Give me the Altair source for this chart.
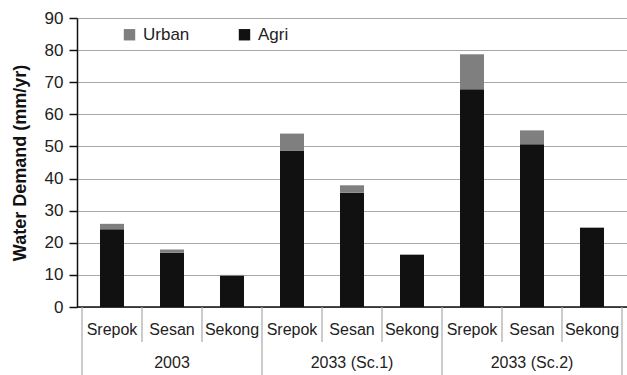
import altair as alt
import pandas as pd

groups = ["2003", "2033 (Sc.1)", "2033 (Sc.2)"]
basins = ["Srepok", "Sesan", "Sekong"]
agri = [24.2, 16.9, 9.7, 48.6, 35.6, 16.3, 67.8, 50.7, 24.7]
urban = [1.7, 1.0, 0.3, 5.4, 2.3, 0.1, 10.9, 4.3, 0.1]
y_ticks = [0, 10, 20, 30, 40, 50, 60, 70, 80, 90]

FONT = "Liberation Sans"
W, H = 550, 289

rows = []
for i in range(len(agri)):
    g = groups[i // 3]
    b = basins[i % 3]
    rows.append({"pos": i + 0.5, "basin": b, "group": g, "use": "Agri", "value": agri[i], "ord": 0})
    rows.append({"pos": i + 0.5, "basin": b, "group": g, "use": "Urban", "value": urban[i], "ord": 1})
bars_df = pd.DataFrame(rows)

basin_df = pd.DataFrame({"pos": [i + 0.5 for i in range(9)], "basin": [basins[i % 3] for i in range(9)]})
group_df = pd.DataFrame({"pos": [1.5, 4.5, 7.5], "group": groups})
sub_div_df = pd.DataFrame({"x": [1, 2, 4, 5, 7, 8]})
grp_div_df = pd.DataFrame({"x": [0, 3, 6, 9]})

xscale = alt.Scale(domain=[0, 9], nice=False, zero=False)

bars = alt.Chart(bars_df).mark_bar(size=24).encode(
    x=alt.X("pos:Q", scale=xscale, axis=None),
    y=alt.Y(
        "value:Q",
        stack="zero",
        scale=alt.Scale(domain=[0, 90], nice=False),
        axis=alt.Axis(
            title="Water Demand (mm/yr)",
            values=y_ticks,
            grid=True,
            gridColor="#a8a8a8",
            gridWidth=1.2,
            domainColor="#111111",
            domainWidth=1.5,
            tickColor="#111111",
            tickSize=8,
            tickWidth=1.5,
            labelFont=FONT,
            labelFontSize=17,
            labelColor="#222222",
            labelPadding=6,
            titleFont=FONT,
            titleFontSize=18,
            titleFontWeight="bold",
            titleColor="#111111",
            titlePadding=15,
        ),
    ),
    color=alt.Color(
        "use:N",
        scale=alt.Scale(domain=["Urban", "Agri"], range=["#7f7f7f", "#111111"]),
        legend=alt.Legend(
            title=None,
            orient="none",
            legendX=44,
            legendY=8,
            direction="horizontal",
            symbolType="square",
            symbolSize=130,
            symbolStrokeWidth=0,
            labelFont=FONT,
            labelFontSize=17,
            labelColor="#222222",
            columnPadding=46,
            labelOffset=5,
        ),
    ),
    order=alt.Order("ord:Q"),
)

baseline = alt.Chart(pd.DataFrame({"a": [0]})).mark_rule(color="#111111", strokeWidth=1.5).encode(
    x=alt.value(0), x2=alt.value(W), y=alt.value(H)
)

sub_div = alt.Chart(sub_div_df).mark_rule(color="#a8a8a8", strokeWidth=1.2).encode(
    x=alt.X("x:Q", scale=xscale, axis=None), y=alt.value(H), y2=alt.value(H + 35)
)
grp_div = alt.Chart(grp_div_df).mark_rule(color="#a8a8a8", strokeWidth=1.2).encode(
    x=alt.X("x:Q", scale=xscale, axis=None), y=alt.value(H), y2=alt.value(H + 70)
)

basin_text = alt.Chart(basin_df).mark_text(
    font=FONT, fontSize=16, color="#222222", baseline="middle"
).encode(x=alt.X("pos:Q", scale=xscale, axis=None), y=alt.value(H + 23), text="basin:N")

group_text = alt.Chart(group_df).mark_text(
    font=FONT, fontSize=16, color="#222222", baseline="middle"
).encode(x=alt.X("pos:Q", scale=xscale, axis=None), y=alt.value(H + 56), text="group:N")

chart = alt.layer(bars, baseline, sub_div, grp_div, basin_text, group_text).properties(
    width=W,
    height=H,
    autosize=alt.AutoSizeParams(type="none"),
    padding={"left": 77, "top": 18, "right": 0, "bottom": 68},
).configure_view(stroke=None).configure(background="white")

chart.save("out.html", embed_options={"renderer": "svg", "actions": False})
